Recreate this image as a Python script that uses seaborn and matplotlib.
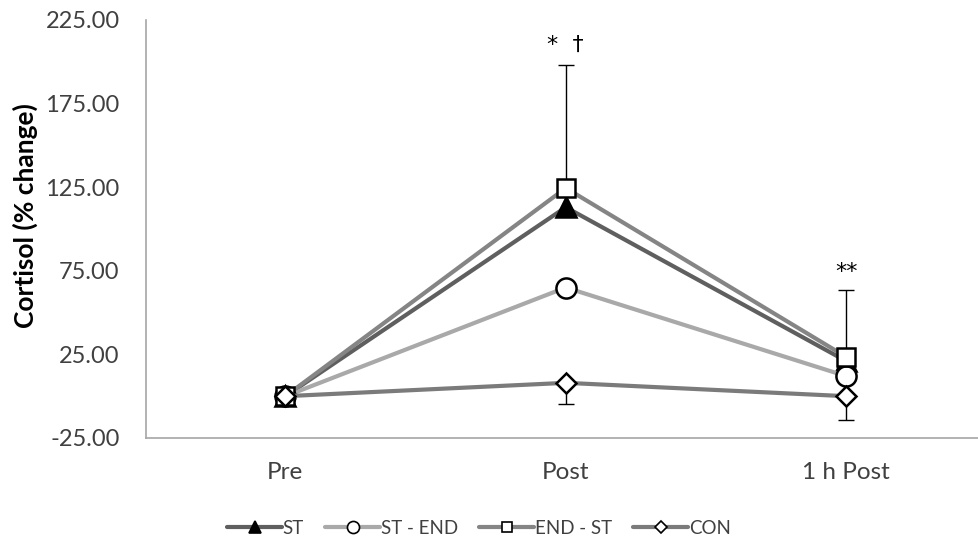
import matplotlib
matplotlib.use("Agg")
import matplotlib.pyplot as plt
import seaborn as sns
import pandas as pd
from matplotlib.lines import Line2D

# Time points and group means (% change in cortisol)
timepoints = ["Pre", "Post", "1 h Post"]
groups = ["ST", "ST - END", "END - ST", "CON"]
st = [0.0, 113.0, 21.0]
st_end = [0.0, 65.0, 12.0]
end_st = [0.0, 124.5, 23.5]
con = [0.0, 8.0, 0.0]

# One-sided SD bars: upward for END - ST, downward for CON
end_st_sd_up = [0.0, 73.5, 40.0]
con_sd_down = [0.0, 12.5, 14.5]

# Significance marks above the bars
sig_labels = ["", "*  \u2020", "**"]
sig_y = [0.0, 210.0, 74.0]

yticks = [-25, 25, 75, 125, 175, 225]

sns.set_theme(style="white")
plt.rcParams["font.family"] = ["Lato", "DejaVu Sans"]

records = []
for g, vals in zip(groups, [st, st_end, end_st, con]):
    for i, (t, v) in enumerate(zip(timepoints, vals)):
        records.append({"group": g, "time": t, "pos": i, "cortisol": v})
df = pd.DataFrame(records)

styles = {
    "ST": dict(color="#5f5f5f", marker="^", mfc="black", ms=14),
    "ST - END": dict(color="#a9a9a9", marker="o", mfc="white", ms=14.5),
    "END - ST": dict(color="#858585", marker="s", mfc="white", ms=13),
    "CON": dict(color="#7b7b7b", marker="D", mfc="white", ms=10.5),
}

fig = plt.figure(figsize=(9.79, 5.44), dpi=100)
ax = fig.add_axes([146 / 979, 106 / 544, 832 / 979, 418 / 544])

for g in groups:
    s = styles[g]
    sns.lineplot(
        data=df[df["group"] == g], x="pos", y="cortisol", ax=ax,
        color=s["color"], linewidth=3.0, marker=s["marker"],
        markersize=s["ms"], markerfacecolor=s["mfc"],
        markeredgecolor="black", markeredgewidth=1.8,
        legend=False, zorder=3,
    )

# SD bars
ax.errorbar(range(len(timepoints)), end_st,
            yerr=[[0] * 3, end_st_sd_up], fmt="none", ecolor="black",
            elinewidth=1.0, capsize=6, capthick=1.0, zorder=2)
ax.errorbar(range(len(timepoints)), con,
            yerr=[con_sd_down, [0] * 3], fmt="none", ecolor="black",
            elinewidth=1.0, capsize=6, capthick=1.0, zorder=2)

for i, (lab, yv) in enumerate(zip(sig_labels, sig_y)):
    if lab:
        ax.text(i, yv, lab, ha="center", va="center", fontsize=16,
                color="black", family=["DejaVu Sans"])

ax.set_xlim(-0.497, 2.47)
ax.set_ylim(-25, 225)
ax.set_yticks(yticks)
ax.set_yticklabels([f"{v:.2f}" for v in yticks], fontsize=17)
ax.set_xticks(range(len(timepoints)))
ax.set_xticklabels(timepoints, fontsize=17.5)
ax.tick_params(axis="both", length=0)
ax.tick_params(axis="y", pad=19)
ax.tick_params(axis="x", pad=17)
for lab in ax.get_xticklabels() + ax.get_yticklabels():
    lab.set_color("#404040")

ax.set_xlabel("")
ax.set_ylabel("Cortisol (% change)", fontsize=19, fontweight="bold",
              color="black")
ax.yaxis.set_label_coords(-0.13, 0.533)

for side in ["top", "right"]:
    ax.spines[side].set_visible(False)
for side in ["left", "bottom"]:
    ax.spines[side].set_color("#a6a6a6")
    ax.spines[side].set_linewidth(1.2)

handles = [
    Line2D([], [], color=styles[g]["color"], linewidth=3.0,
           marker=styles[g]["marker"], markersize=styles[g]["ms"] * 0.6,
           markerfacecolor=styles[g]["mfc"], markeredgecolor="black",
           markeredgewidth=1.2)
    for g in groups
]
fig.legend(handles, groups, loc="center", bbox_to_anchor=(479 / 979, 16 / 544),
           ncol=4, frameon=False, fontsize=13.5, handlelength=2.9,
           handletextpad=0.05, columnspacing=1.15,
           labelcolor="#404040")

fig.savefig("out.png", dpi=100)
